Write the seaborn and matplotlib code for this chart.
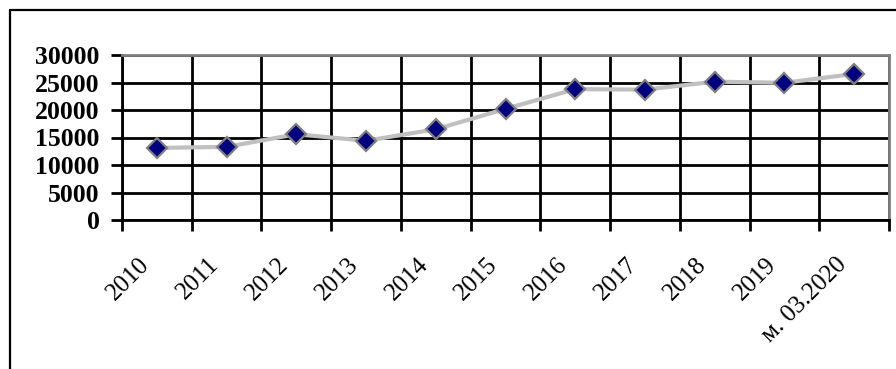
import numpy as np
import matplotlib
matplotlib.use("Agg")
import matplotlib.pyplot as plt
import matplotlib.transforms as mtransforms
from matplotlib.lines import Line2D
import seaborn as sns

# data
periods = ["2010", "2011", "2012", "2013", "2014", "2015",
           "2016", "2017", "2018", "2019", "м. 03.2020"]
values = [13100, 13300, 15600, 14400, 16500, 20200,
          23800, 23700, 25150, 24950, 26550]
y_ticks = [0, 5000, 10000, 15000, 20000, 25000, 30000]

sns.set_theme(style="white")
plt.rcParams["font.family"] = ["Liberation Serif", "DejaVu Serif"]

W, H = 896, 369
fig = plt.figure(figsize=(W / 100, H / 100), dpi=100, facecolor="white")

# outer chart frame (cut off on the right and bottom)
fig.add_artist(Line2D([10 / W, 1.0], [1 - 10 / H, 1 - 10 / H],
                      transform=fig.transFigure, color="black", lw=1.6))
fig.add_artist(Line2D([10 / W, 10 / W], [0.0, 1 - 10 / H],
                      transform=fig.transFigure, color="black", lw=1.6))

ax = fig.add_axes([122 / W, 1 - 220 / H, (889 - 122) / W, (220 - 55) / H])

x_pos = np.arange(len(periods))
sns.lineplot(x=x_pos, y=values, ax=ax, color="#C0C0C0", linewidth=3,
             marker="D", markersize=10, markerfacecolor="#000080",
             markeredgecolor="#808080", markeredgewidth=1.6, sort=False)

ax.set_xlim(-0.5, len(periods) - 0.5)
ax.set_ylim(0, 30000)
ax.set_yticks(y_ticks)
ax.set_yticklabels([str(v) for v in y_ticks], fontsize=18.5, fontweight="bold")

# category labels at centres, grid/ticks at boundaries
ax.set_xticks(x_pos)
ax.set_xticklabels(periods, fontsize=18, rotation=45, ha="right",
                   rotation_mode="anchor")
ax.set_xticks(np.arange(len(periods) + 1) - 0.5, minor=True)
ax.tick_params(axis="x", which="major", length=0, pad=24)
ax.tick_params(axis="x", which="minor", length=8, width=2, color="black",
               direction="out", bottom=True)
ax.tick_params(axis="y", length=8, width=2, color="black", direction="out",
               left=True, pad=8, labelcolor="black")

offset = mtransforms.ScaledTranslation(-19 / 100, 0, fig.dpi_scale_trans)
for lbl in ax.get_xticklabels():
    lbl.set_transform(lbl.get_transform() + offset)
    lbl.set_color("black")

ax.set_axisbelow(True)
ax.grid(True, axis="y", which="major", color="black", linewidth=2)
ax.grid(True, axis="x", which="minor", color="black", linewidth=2)
ax.grid(False, axis="x", which="major")

for side in ["top", "right"]:
    ax.spines[side].set_visible(True)
    ax.spines[side].set_color("#808080")
    ax.spines[side].set_linewidth(2)
for side in ["left", "bottom"]:
    ax.spines[side].set_visible(True)
    ax.spines[side].set_color("black")
    ax.spines[side].set_linewidth(2)

ax.set_xlabel("")
ax.set_ylabel("")
if ax.get_legend() is not None:
    ax.get_legend().remove()

fig.savefig("out.png", dpi=100, facecolor="white")
